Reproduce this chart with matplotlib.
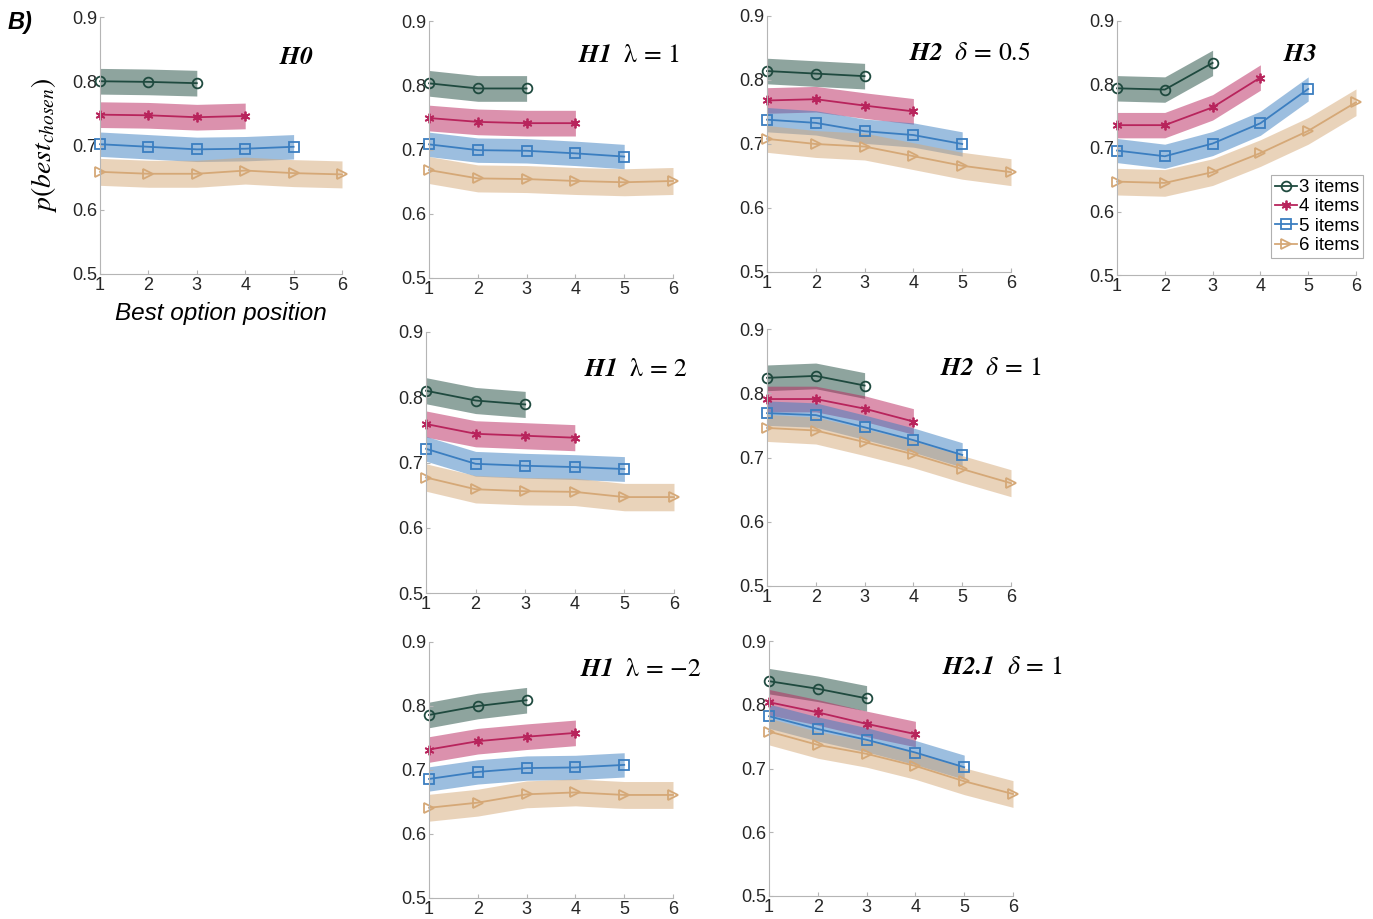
import matplotlib
matplotlib.use('Agg')
import matplotlib.pyplot as plt
import numpy as np

plt.rcParams['font.family'] = ['Liberation Sans', 'DejaVu Sans']
plt.rcParams['mathtext.fontset'] = 'stix'

labels = ['3 items', '4 items', '5 items', '6 items']
colors = ['#1f4a3f', '#b8245c', '#3b7ec0', '#d5a877']
markers = ['o', (6, 2, 0), 's', '>']
# half width of the shaded band for each set size
ci = [0.02, 0.02, 0.019, 0.021]

# p(best chosen) per best option position, one row per set size (3..6 items)
h0 = [[0.800, 0.799, 0.797],
      [0.748, 0.747, 0.744, 0.746],
      [0.702, 0.698, 0.694, 0.695, 0.698],
      [0.659, 0.656, 0.656, 0.661, 0.657, 0.655]]
h1_l1 = [[0.803, 0.795, 0.795],
         [0.749, 0.743, 0.741, 0.741],
         [0.708, 0.699, 0.698, 0.694, 0.689],
         [0.668, 0.655, 0.654, 0.651, 0.649, 0.651]]
h2_d05 = [[0.814, 0.810, 0.806],
          [0.768, 0.770, 0.760, 0.751],
          [0.738, 0.733, 0.720, 0.714, 0.700],
          [0.708, 0.700, 0.696, 0.681, 0.666, 0.656]]
h3 = [[0.794, 0.792, 0.834],
      [0.736, 0.736, 0.764, 0.811],
      [0.696, 0.687, 0.707, 0.739, 0.793],
      [0.647, 0.645, 0.662, 0.692, 0.727, 0.772]]
h1_l2 = [[0.810, 0.795, 0.789],
         [0.759, 0.744, 0.741, 0.738],
         [0.721, 0.698, 0.695, 0.693, 0.690],
         [0.677, 0.659, 0.656, 0.655, 0.647, 0.647]]
h2_d1 = [[0.824, 0.827, 0.812],
         [0.791, 0.791, 0.776, 0.756],
         [0.769, 0.766, 0.747, 0.727, 0.704],
         [0.746, 0.742, 0.724, 0.705, 0.682, 0.660]]
h1_lm2 = [[0.786, 0.800, 0.809],
          [0.732, 0.745, 0.752, 0.758],
          [0.686, 0.697, 0.703, 0.704, 0.708],
          [0.641, 0.649, 0.662, 0.665, 0.661, 0.661]]
h21_d1 = [[0.837, 0.825, 0.810],
          [0.804, 0.788, 0.770, 0.754],
          [0.782, 0.762, 0.745, 0.725, 0.702],
          [0.758, 0.737, 0.723, 0.704, 0.680, 0.660]]

W, H = 1373, 919
fig = plt.figure(figsize=(W / 100, H / 100), dpi=100)

def px_axes(l, r, t, b):
    return fig.add_axes([l / W, 1 - b / H, (r - l) / W, (b - t) / H])

# (data, title, pixel box, title anchor in axes coords)
panels = [
    (h0, r'$\mathbfit{H0}$', (100, 342, 17, 274), (0.885, 0.845)),
    (h1_l1, r'$\mathbfit{H1}\ \ \mathrm{\lambda}\,=\,1$', (429, 673, 21, 278), (1.03, 0.868)),
    (h2_d05, r'$\mathbfit{H2}\ \ \mathit{\delta}\,=\,0.5$', (767, 1011, 16, 272), (1.08, 0.854)),
    (h3, r'$\mathbfit{H3}$', (1117, 1356, 21, 275), (0.837, 0.87)),
    (h1_l2, r'$\mathbfit{H1}\ \ \mathrm{\lambda}\,=\,2$', (426, 674, 332, 593), (1.056, 0.858)),
    (h2_d1, r'$\mathbfit{H2}\ \ \mathit{\delta}\,=\,1$', (767, 1011, 329, 586), (1.123, 0.848)),
    (h1_lm2, r'$\mathbfit{H1}\ \ \mathrm{\lambda}\,=\,{-}2$', (429, 673, 642, 898), (1.119, 0.894)),
    (h21_d1, r'$\mathbfit{H2.1}\ \ \mathit{\delta}\,=\,1$', (769, 1013, 641, 896), (1.205, 0.898)),
]

axes = []
for data, title, box, tpos in panels:
    ax = px_axes(*box)
    for k, vals in enumerate(data):
        y = np.array(vals)
        x = np.arange(1, len(y) + 1)
        ax.fill_between(x, y - ci[k], y + ci[k], color=colors[k], alpha=0.5, lw=0)
        ax.plot(x, y, color=colors[k], lw=1.3, marker=markers[k], ms=7,
                mfc='none' if k != 1 else colors[k], mew=1.3, label=labels[k],
                clip_on=False)
    ax.set_xlim(1, 6)
    ax.set_ylim(0.5, 0.9)
    ax.set_xticks(range(1, 7))
    ax.set_yticks([0.5, 0.6, 0.7, 0.8, 0.9])
    for s in ['top', 'right']:
        ax.spines[s].set_visible(False)
    for s in ['left', 'bottom']:
        ax.spines[s].set_color('#b5b5b5')
    ax.tick_params(direction='in', length=3, color='#b5b5b5', labelsize=13,
                   labelcolor='#262626', pad=2)
    ax.text(tpos[0], tpos[1], title, transform=ax.transAxes, ha='right',
            va='center', fontsize=18.5)
    axes.append(ax)

axes[0].set_ylabel(r'$p(best_{chosen})$', fontsize=20)
axes[0].yaxis.set_label_coords(-0.17, 0.5)
axes[0].set_xlabel('Best option position', fontsize=17.5, style='italic', labelpad=6)
fig.text(8 / W, 1 - 22 / H, 'B)', fontsize=17, weight='bold', style='italic',
         va='center', ha='left')

leg = axes[3].legend(loc='lower right', bbox_to_anchor=(1.03, 0.067),
                     fontsize=13.5, handlelength=1.2, handletextpad=0.1,
                     labelspacing=0.12, borderpad=0.2, borderaxespad=0,
                     fancybox=False, framealpha=1)
leg.get_frame().set_edgecolor('#b0b0b0')
leg.get_frame().set_linewidth(0.8)

fig.savefig('out.png', dpi=100)
